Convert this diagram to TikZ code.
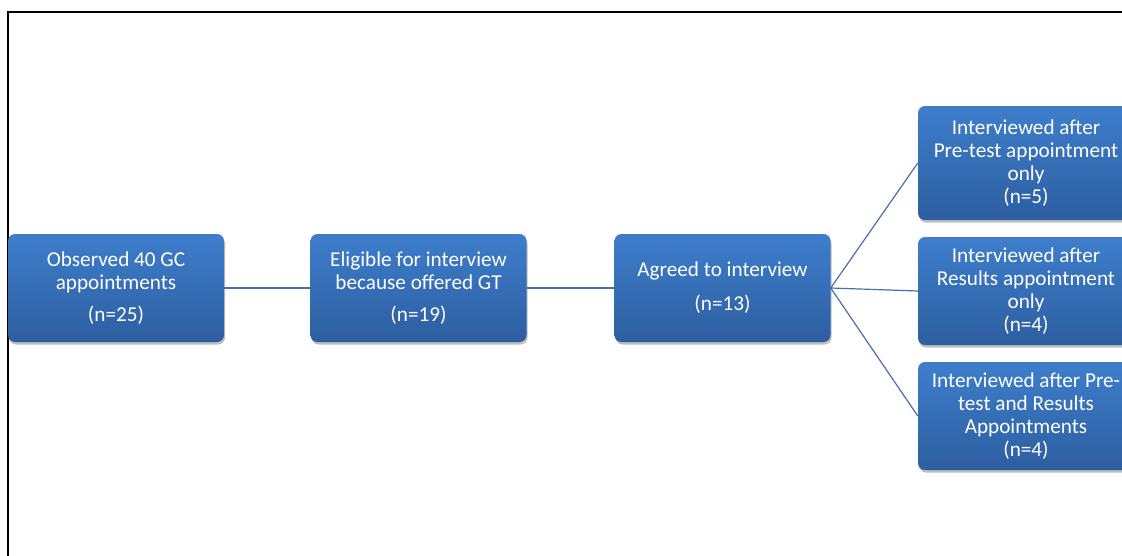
\documentclass[tikz,border=0pt]{standalone}
\usepackage{fontspec}
\setmainfont{Carlito}
\usetikzlibrary{shadows}
\definecolor{boxtop}{RGB}{62,126,204}
\definecolor{boxbot}{RGB}{45,94,160}
\definecolor{linkc}{RGB}{72,112,168}
\tikzset{
  box/.style={rounded corners=7pt, top color=boxtop, bottom color=boxbot, draw=none,
    minimum width=216pt, minimum height=108pt, text=white, align=center,
    font=\fontsize{21.2}{23}\selectfont, inner sep=1pt,
    drop shadow={shadow xshift=1pt, shadow yshift=-2.5pt, opacity=0.25, fill=black}},
  link/.style={draw=linkc, line width=1.2pt},
  frame/.style={draw=black, line width=1.6pt}
}
\begin{document}
\begin{tikzpicture}[x=1pt,y=-1pt]
\useasboundingbox (0,0) rectangle (1122,555);
\begin{scope}
\clip (0,0) rectangle (1122,555);
\draw[frame] (8,560) -- (8,12) -- (1130,12);
\node[box] (a) at (116,288) {Observed 40 GC\\appointments\\[9pt](n=25)};
\node[box] (b) at (418.5,288) {Eligible for interview\\because offered GT\\[9pt](n=19)};
\node[box] (c) at (722.5,288) {Agreed to interview\\[11pt](n=13)};
\node[box, minimum height=114pt] (d) at (1026,163) {Interviewed after\\Pre-test appointment\\only\\(n=5)};
\node[box] (e) at (1026,291) {Interviewed after\\Results appointment\\only\\(n=4)};
\node[box] (f) at (1026,416) {Interviewed after Pre-\\test and Results\\Appointments\\(n=4)};
\draw[link] (a.east) -- (b.west);
\draw[link] (b.east) -- (c.west);
\draw[link] (c.east) -- (d.west);
\draw[link] (c.east) -- (e.west);
\draw[link] (c.east) -- (f.west);
\end{scope}
\end{tikzpicture}
\end{document}
